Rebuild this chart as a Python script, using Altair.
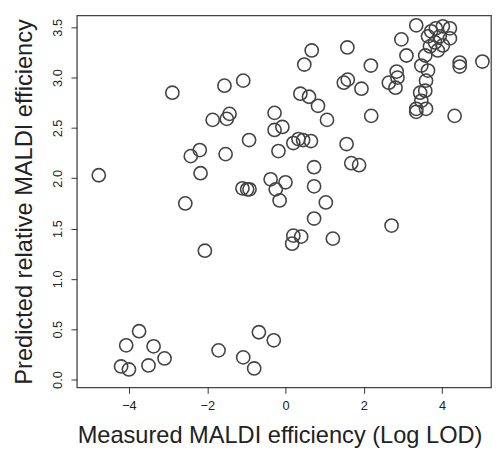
import altair as alt
import pandas as pd

measured = [
    -4.77, -2.89, -1.56, -1.08, -1.86, -1.50, -1.43, -2.42, -2.19, -2.17,
    -1.53, -2.56, -1.10, -0.98, -0.92, -0.93, -2.06, -3.74, -4.07, -3.37,
    -3.09, -4.20, -4.00, -3.50, -1.71, -1.08, -0.80, -0.68, -0.30, 0.17,
    0.20, 0.40, 1.21, 2.71, 0.73, 0.73, 1.03, -0.38, 0.00, -0.25,
    -0.15, 0.73, 1.68, 1.88, 1.56, -0.18, 0.20, 0.33, 0.45, 0.65,
    -0.28, -0.28, -0.08, 0.38, 0.60, 0.83, 1.06, 0.48, 0.67, 1.58,
    1.49, 1.59, 1.94, 2.18, 2.19, 2.64, 2.84, 2.86, 2.81, 2.96,
    3.09, 3.34, 4.45, 4.45, 5.03, 4.32, 3.47, 3.64, 3.59, 3.57,
    3.44, 3.47, 3.34, 3.34, 3.59, 3.84, 4.02, 4.20, 3.64, 3.94,
    4.20, 4.02, 3.69, 3.89, 3.57, 3.72, 3.82,
]
predicted = [
    2.03, 2.85, 2.92, 2.97, 2.58, 2.59, 2.64, 2.22, 2.28, 2.05,
    2.24, 1.75, 1.90, 1.89, 1.89, 2.38, 1.28, 0.48, 0.34, 0.33,
    0.21, 0.13, 0.10, 0.14, 0.29, 0.22, 0.11, 0.47, 0.39, 1.35,
    1.43, 1.42, 1.40, 1.53, 1.60, 1.92, 1.76, 1.99, 1.96, 1.89,
    1.78, 2.11, 2.15, 2.13, 2.34, 2.27, 2.35, 2.39, 2.38, 2.37,
    2.65, 2.48, 2.51, 2.84, 2.81, 2.72, 2.58, 3.13, 3.27, 3.30,
    2.95, 2.98, 2.89, 3.12, 2.62, 2.95, 3.06, 3.00, 2.90, 3.38,
    3.22, 3.52, 3.15, 3.11, 3.16, 2.62, 3.12, 3.07, 2.97, 2.87,
    2.85, 2.77, 2.69, 2.66, 2.69, 3.49, 3.51, 3.49, 3.41, 3.41,
    3.39, 3.32, 3.31, 3.27, 3.22, 3.46, 3.35,
]

x_ticks = [-4, -2, 0, 2, 4]
y_ticks = [0.0, 0.5, 1.0, 1.5, 2.0, 2.5, 3.0, 3.5]

df = pd.DataFrame({"measured": measured, "predicted": predicted})

FONT = "Liberation Sans"

chart = alt.Chart(df).mark_point(
    shape="circle", filled=False, size=180, stroke="#444444", strokeWidth=1.6, opacity=1
).encode(
    x=alt.X("measured:Q",
            scale=alt.Scale(domain=[-5.33, 5.25], nice=False, zero=False),
            axis=alt.Axis(values=x_ticks, format="d", title="Measured MALDI efficiency (Log LOD)",
                          grid=False, domain=False, tickSize=6, tickColor="#333333",
                          labelPadding=6, labelFontSize=13, labelColor="#222222",
                          titleFontSize=24, titleFontWeight="normal", titleColor="#222222",
                          titlePadding=12, titleX=206, labelFont=FONT, titleFont=FONT)),
    y=alt.Y("predicted:Q",
            scale=alt.Scale(domain=[-0.078, 3.617], nice=False, zero=False),
            axis=alt.Axis(values=y_ticks, format=".1f", title="Predicted relative MALDI efficiency",
                          grid=False, domain=False, tickSize=6, tickColor="#333333",
                          labelAngle=-90, labelAlign="center", labelBaseline="bottom",
                          labelPadding=7, labelFontSize=13, labelColor="#222222",
                          titleFontSize=24, titleFontWeight="normal", titleColor="#222222",
                          titlePadding=15, labelFont=FONT, titleFont=FONT)),
).properties(
    width=421, height=378,
    autosize=alt.AutoSizeParams(type="none"),
    padding={"left": 70, "top": 4, "right": 1, "bottom": 61},
).configure_view(
    stroke="#444444", strokeWidth=1.3
)

chart.save("out.html", embed_options={"renderer": "svg", "actions": False})
